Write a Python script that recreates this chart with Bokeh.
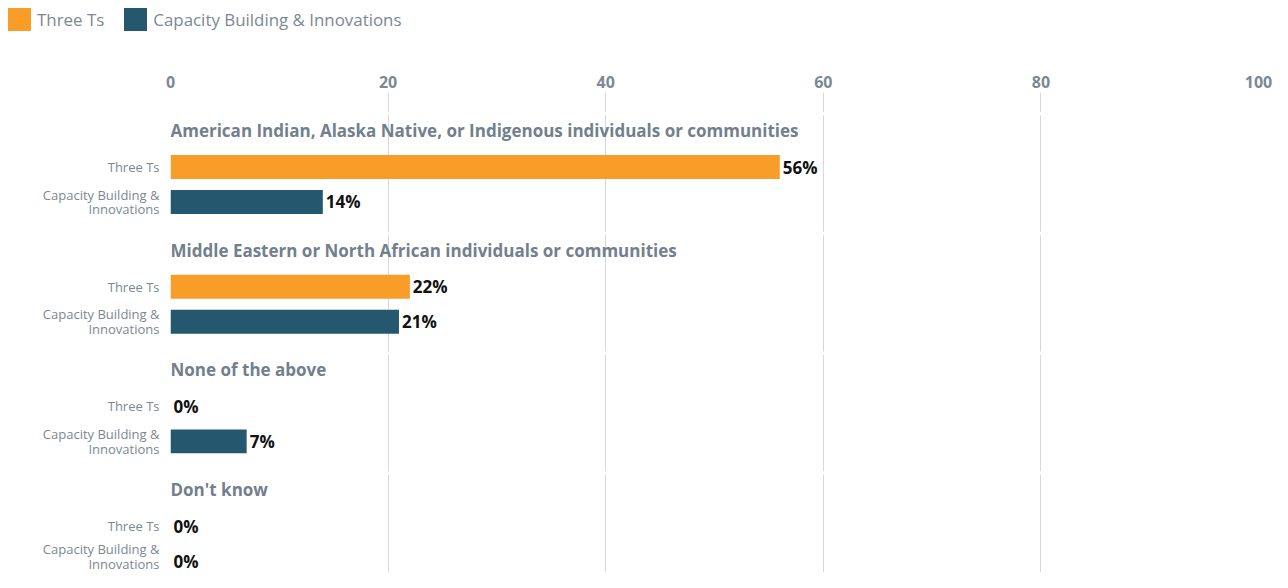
from bokeh.plotting import figure
from bokeh.models import (ColumnDataSource, Range1d, FixedTicker, LabelSet, Div)
from bokeh.core.properties import value
from bokeh.layouts import column
from bokeh.embed import file_html
from bokeh.resources import INLINE

groups = [
    "American Indian, Alaska Native, or Indigenous individuals or communities",
    "Middle Eastern or North African individuals or communities",
    "None of the above",
    "Don't know",
]
series = ["Three Ts", "Capacity Building & Innovations"]
series_axis_labels = ["Three Ts", "Capacity Building &\nInnovations"]
three_ts = [56, 22, 0, 0]
capacity = [14, 21, 7, 0]
x_ticks = [0, 20, 40, 60, 80, 100]

colors = ["#F89D27", "#25586F"]
GRAY = "#7B8894"
TITLE_GRAY = "#72808D"
FONT = "Open Sans"

# layout within a group (units: one group = 1.0)
offsets = [0.305, 0.597]
bar_h = 0.2

# ---- legend (HTML) ----
parts = []
for k, (name, c) in enumerate(zip(series, colors)):
    ml = "0" if k == 0 else "20px"
    parts.append(
        f'<span style="display:inline-block;width:23px;height:23px;background:{c};'
        f'margin-left:{ml};margin-right:6px;"></span>'
        f'<span>{name.replace("&", "&amp;")}</span>'
    )
legend_html = (
    f'<div style="display:flex;align-items:center;font-family:\'{FONT}\';'
    f'font-size:16.9px;color:{GRAY};line-height:23px;white-space:nowrap;'
    f'padding:8px 0 0 8px;margin:0;">'
    + "".join(parts) + "</div>"
)
leg = Div(text=legend_html, width=1272, height=44, margin=0)

# ---- main figure ----
p = figure(width=1272, height=528, toolbar_location=None, output_backend="svg",
           x_axis_location="above", min_border_left=170, min_border_right=14,
           min_border_top=48, min_border_bottom=0)
p.x_range = Range1d(0, 100)
# frame spans image y 92..572; group i title at 130 + 119.7*i
p.y_range = Range1d((572 - 130) / 119.7, (92 - 130) / 119.7)
p.outline_line_color = None

for j, vals in enumerate([three_ts, capacity]):
    ys = [i + offsets[j] for i in range(len(groups))]
    src = ColumnDataSource(dict(y=ys, v=vals, lab=[f"{v}%" for v in vals]))
    p.hbar(y="y", left=0, right="v", height=bar_h, source=src,
           fill_color=colors[j], line_color=None)
    p.add_layout(LabelSet(x="v", y="y", text="lab", source=src, x_offset=3,
                          text_baseline="middle", text_align="left",
                          text_font=value(FONT), text_font_style="bold",
                          text_font_size="17px", text_color="#111111"))

# panel separators (small gaps in gridlines)
p.hbar(y=[i - 0.14 for i in range(len(groups))], left=-5, right=105,
       height=0.027, fill_color="white", line_color=None)

tsrc = ColumnDataSource(dict(x=[0] * len(groups), y=list(range(len(groups))), t=groups))
p.add_layout(LabelSet(x="x", y="y", text="t", source=tsrc, text_baseline="middle",
                      text_align="left", text_font=value(FONT), text_font_style="bold",
                      text_font_size="17px", text_color=TITLE_GRAY))

# x axis (top)
xa = p.xaxis[0]
xa.ticker = FixedTicker(ticks=x_ticks)
xa.axis_line_color = None
xa.major_tick_line_color = None
xa.minor_tick_line_color = None
xa.major_tick_out = 0
xa.major_tick_in = 0
xa.minor_tick_out = 0
xa.major_label_standoff = 5
xa.major_label_text_font = FONT
xa.major_label_text_font_style = "bold"
xa.major_label_text_font_size = "16px"
xa.major_label_text_color = GRAY

# y axis with series labels
ytick_vals = []
overrides = {}
for i in range(len(groups)):
    for j in range(len(series)):
        v = i + offsets[j]
        ytick_vals.append(v)
        overrides[v] = series_axis_labels[j]
ya = p.yaxis[0]
ya.ticker = FixedTicker(ticks=ytick_vals)
ya.major_label_overrides = overrides
ya.axis_line_color = None
ya.major_tick_line_color = None
ya.minor_tick_line_color = None
ya.major_tick_out = 0
ya.major_tick_in = 0
ya.minor_tick_out = 0
ya.major_label_standoff = 11
ya.major_label_text_font = FONT
ya.major_label_text_font_size = "13px"
ya.major_label_text_color = GRAY
ya.major_label_text_line_height = 0.8

p.ygrid.visible = False
p.xgrid.ticker = FixedTicker(ticks=x_ticks)
p.xgrid.grid_line_color = "#D3D9DF"
p.xgrid.grid_line_width = 1

layout = column(leg, p, spacing=0)
open("out.html", "w").write(file_html(layout, INLINE))
